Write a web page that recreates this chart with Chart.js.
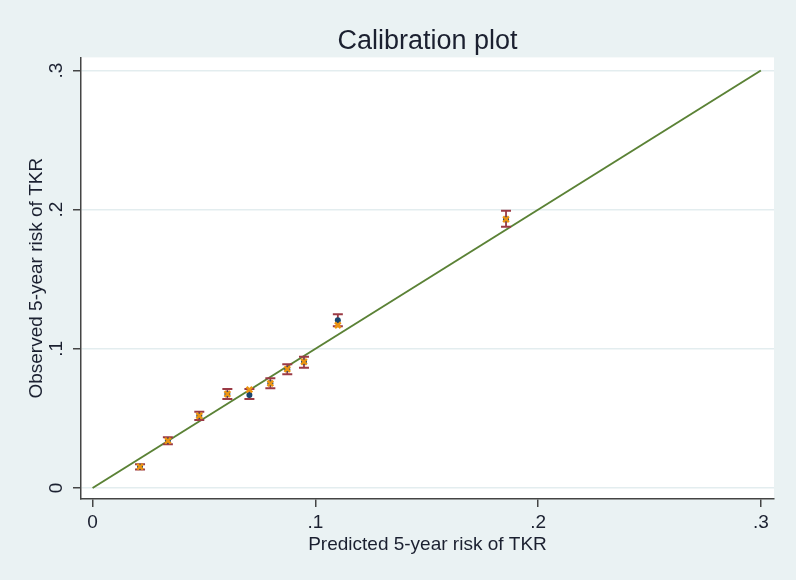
<!DOCTYPE html>
<html>
<head>
<meta charset="utf-8">
<title>Calibration plot</title>
<script src="https://cdn.jsdelivr.net/npm/chart.js@4.4.1/dist/chart.umd.min.js"></script>
<style>
  html, body { margin: 0; padding: 0; background: #eaf2f3; }
</style>
</head>
<body>
<canvas id="calib-canvas" width="796" height="580"></canvas>
<script>
// predicted risk per group (x) and observed risk with 95% CI (y)
var predicted = [0.0213, 0.0338, 0.0479, 0.0605, 0.0704, 0.0798, 0.0874, 0.0949, 0.1101, 0.1856];
var observed  = [0.0153, 0.0340, 0.0519, 0.0675, 0.0668, 0.0752, 0.0854, 0.0907, 0.1206, 0.1931];
var secondary = [0.0153, 0.0340, 0.0519, 0.0675, 0.0707, 0.0752, 0.0854, 0.0907, 0.1170, 0.1931];
var ciLow     = [0.0133, 0.0314, 0.0488, 0.0639, 0.0639, 0.0716, 0.0818, 0.0864, 0.1163, 0.1877];
var ciHigh    = [0.0170, 0.0364, 0.0548, 0.0711, 0.0711, 0.0788, 0.0890, 0.0943, 0.1249, 0.1992];
var refLine   = [0, 0.3];
var tickVals  = [0, 0.1, 0.2, 0.3];

var FONT = '"Liberation Sans", Arial, sans-serif';
var TEXT = '#1b2030';

function pts(xs, ys) {
    return xs.map(function(x, i) { return {x: x, y: ys[i]}; });
}

// CI segments, separated by gaps
var ciData = [];
predicted.forEach(function(x, i) {
    ciData.push({x: x, y: ciLow[i]});
    ciData.push({x: x, y: ciHigh[i]});
    ciData.push({x: x, y: null});
});

function fmtTick(v) {
    return v === 0 ? '0' : String(v).replace(/^0/, '');
}

var bgPlugin = {
    id: 'bg',
    beforeDraw: function(chart) {
        var c = chart.ctx, a = chart.chartArea;
        c.save();
        c.fillStyle = '#eaf2f3';
        c.fillRect(0, 0, chart.width, chart.height);
        c.fillStyle = '#ffffff';
        c.fillRect(a.left, a.top, a.right - a.left, a.bottom - a.top);
        c.restore();
    }
};

var ctx = document.getElementById('calib-canvas').getContext('2d');
new Chart(ctx, {
    type: 'scatter',
    data: {
        datasets: [
            {
                data: pts(predicted, secondary),
                pointStyle: 'crossRot',
                pointRadius: 4,
                borderColor: '#ec9412',
                borderWidth: 2.5,
                showLine: false
            },
            {
                data: pts(predicted, observed),
                pointStyle: 'circle',
                pointRadius: 3,
                backgroundColor: '#1a476f',
                borderColor: '#1a476f',
                borderWidth: 0,
                showLine: false
            },
            {
                type: 'line',
                data: ciData,
                borderColor: '#9b3a45',
                borderWidth: 1.8,
                pointStyle: 'line',
                pointRadius: 5,
                pointBorderColor: '#9b3a45',
                pointBorderWidth: 2,
                spanGaps: false,
                fill: false
            },
            {
                type: 'line',
                data: pts(refLine, refLine),
                borderColor: '#5b8236',
                borderWidth: 2,
                pointRadius: 0,
                fill: false
            }
        ]
    },
    options: {
        responsive: false,
        animation: false,
        layout: { padding: { top: 0, right: 22, bottom: 0, left: 0 } },
        plugins: {
            legend: { display: false },
            tooltip: { enabled: false },
            title: {
                display: true,
                fullSize: false,
                text: 'Calibration plot',
                color: TEXT,
                font: { family: FONT, size: 27, weight: 'normal' },
                padding: { top: 25, bottom: 0 }
            }
        },
        scales: {
            x: {
                type: 'linear',
                min: -0.0052,
                max: 0.3059,
                afterBuildTicks: function(s) { s.ticks = tickVals.map(function(v) { return {value: v}; }); },
                afterFit: function(s) { s.height = 81; },
                grid: { color: 'rgba(0,0,0,0)', tickColor: '#444', tickLength: 8, lineWidth: 1.5 },
                border: { display: true, color: '#444', width: 1.5 },
                ticks: {
                    color: TEXT, padding: 4,
                    font: { family: FONT, size: 19 },
                    callback: fmtTick
                },
                title: {
                    display: true,
                    text: 'Predicted 5-year risk of TKR',
                    color: TEXT,
                    font: { family: FONT, size: 19 },
                    padding: { top: 0, bottom: 24 }
                }
            },
            y: {
                type: 'linear',
                min: -0.0079,
                max: 0.3094,
                afterBuildTicks: function(s) { s.ticks = tickVals.map(function(v) { return {value: v}; }); },
                afterFit: function(s) { s.width = 81; },
                grid: { color: '#e3edef', tickColor: '#444', tickLength: 8, lineWidth: 1.5 },
                border: { display: true, color: '#444', width: 1.5 },
                ticks: {
                    color: TEXT, padding: 8,
                    minRotation: 90, maxRotation: 90,
                    crossAlign: 'center',
                    font: { family: FONT, size: 19 },
                    callback: fmtTick
                },
                title: {
                    display: true,
                    text: 'Observed 5-year risk of TKR',
                    color: TEXT,
                    font: { family: FONT, size: 19 },
                    padding: { top: 25, bottom: 0 }
                }
            }
        }
    },
    plugins: [bgPlugin]
});
</script>
</body>
</html>
